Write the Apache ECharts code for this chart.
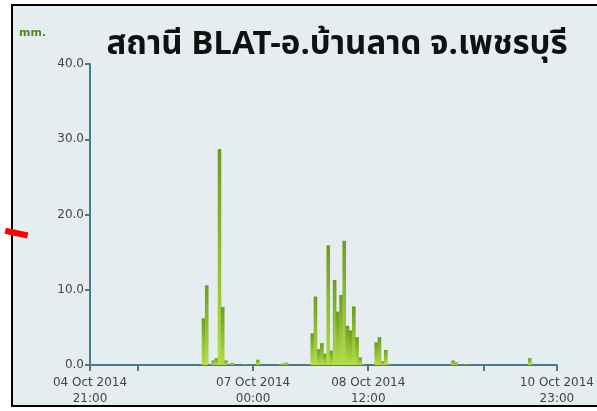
<!DOCTYPE html>
<html>
<head>
<meta charset="utf-8">
<script src="https://cdn.jsdelivr.net/npm/echarts@6/dist/echarts.min.js"></script>
<style>
  html, body { margin: 0; padding: 0; background: #ffffff; }
  .box {
    position: absolute; left: 11px; top: 4px; width: 600px; height: 399px;
    border: 2px solid #000000; background: #e6edf0;
  }
  #chart { position: absolute; left: 0; top: 0; width: 597px; height: 411px; }
</style>
</head>
<body>
<div class="box"></div>
<div id="chart"></div>
<script>
// hourly rainfall (mm), only hours with rain
var times = [
  '2014-10-06 08:00', '2014-10-06 09:00', '2014-10-06 11:00', '2014-10-06 12:00',
  '2014-10-06 13:00', '2014-10-06 14:00', '2014-10-06 15:00', '2014-10-06 17:00',
  '2014-10-06 21:00', '2014-10-07 01:00', '2014-10-07 08:00', '2014-10-07 09:00',
  '2014-10-07 10:00', '2014-10-07 18:00', '2014-10-07 19:00', '2014-10-07 20:00',
  '2014-10-07 21:00', '2014-10-07 22:00', '2014-10-07 23:00', '2014-10-08 00:00',
  '2014-10-08 01:00', '2014-10-08 02:00', '2014-10-08 03:00', '2014-10-08 04:00',
  '2014-10-08 05:00', '2014-10-08 06:00', '2014-10-08 07:00', '2014-10-08 08:00',
  '2014-10-08 09:00', '2014-10-08 10:00', '2014-10-08 14:00', '2014-10-08 15:00',
  '2014-10-08 16:00', '2014-10-08 17:00', '2014-10-08 18:00', '2014-10-09 14:00',
  '2014-10-09 15:00', '2014-10-09 18:00', '2014-10-10 14:00'
];
var rain = [
  6.2, 10.6, 0.6, 0.9,
  28.7, 7.7, 0.6, 0.3,
  0.1, 0.7, 0.1, 0.2,
  0.3, 4.2, 9.1, 2.1,
  2.9, 1.5, 15.9, 1.9,
  11.3, 7.1, 9.3, 16.5,
  5.2, 4.6, 7.8, 3.7,
  1.0, 0.1, 3.0, 3.7,
  0.5, 2.0, 0.1, 0.6,
  0.35, 0.1, 0.9
];
var axisStart = '2014-10-04 21:00';
var axisEnd = '2014-10-10 23:00';
var tickTimes = ['2014-10-04 21:00', '2014-10-05 12:00', '2014-10-07 00:00', '2014-10-08 12:00', '2014-10-10 00:00', '2014-10-10 23:00'];
var labelTimes = ['2014-10-04 21:00', '2014-10-07 00:00', '2014-10-08 12:00', '2014-10-10 23:00'];

function ts(s) {
  var p = s.split(/[- :]/);
  return Date.UTC(+p[0], +p[1] - 1, +p[2], +p[3], +p[4]);
}
var t0 = ts(axisStart);
// hours since axis start
function hr(s) { return (ts(s) - t0) / 3600000; }
var months = ['Jan', 'Feb', 'Mar', 'Apr', 'May', 'Jun', 'Jul', 'Aug', 'Sep', 'Oct', 'Nov', 'Dec'];
function pad(n) { return (n < 10 ? '0' : '') + n; }

// each bar sits in the middle of its hour
var data = [];
for (var i = 0; i < times.length; i++) {
  data.push([hr(times[i]) + 0.5, rain[i]]);
}

var myChart = echarts.init(document.getElementById('chart'));
myChart.setOption({
  backgroundColor: 'transparent',
  animation: false,
  grid: { left: 90, right: 40, top: 64, bottom: 46 },
  title: {
    text: 'สถานี BLAT-อ.บ้านลาด จ.เพชรบุรี',
    left: 332, top: 26, textAlign: 'center',
    textStyle: { fontSize: 33, fontWeight: 'bold', color: '#111111', fontFamily: 'Noto Sans Thai, Noto Sans, sans-serif' }
  },
  graphic: [
    {
      type: 'text', left: 19, top: 28,
      style: { text: 'mm.', fill: '#4d8a1c', font: 'bold 11px DejaVu Sans' }
    },
    {
      type: 'rect', x: 16, y: 233, rotation: -0.21,
      shape: { x: -11, y: -3, width: 23, height: 6 },
      style: { fill: '#ff0000' }
    }
  ],
  xAxis: {
    type: 'value',
    min: 0, max: hr(axisEnd),
    splitLine: { show: false },
    axisLine: { lineStyle: { color: '#4a7a8a', width: 2 } },
    axisTick: {
      show: true, length: 6, lineStyle: { color: '#4a7a8a', width: 2 },
      customValues: tickTimes.map(hr)
    },
    axisLabel: {
      customValues: labelTimes.map(hr),
      color: '#444444', fontSize: 12, fontFamily: 'DejaVu Sans', lineHeight: 16, margin: 10,
      formatter: function (v) {
        var d = new Date(t0 + v * 3600000);
        return pad(d.getUTCDate()) + ' ' + months[d.getUTCMonth()] + ' ' + d.getUTCFullYear() + '\n' + pad(d.getUTCHours()) + ':' + pad(d.getUTCMinutes());
      }
    }
  },
  yAxis: {
    type: 'value', min: 0, max: 40, interval: 10,
    splitLine: { show: false },
    axisLine: { show: true, lineStyle: { color: '#4a7a8a', width: 2 } },
    axisTick: { show: true, length: 5, lineStyle: { color: '#4a7a8a', width: 2 } },
    axisLabel: {
      color: '#444444', fontSize: 12, fontFamily: 'DejaVu Sans', margin: 6,
      formatter: function (v) { return v.toFixed(1); }
    }
  },
  series: [
    {
      type: 'bar',
      data: data,
      barWidth: 3.6,
      itemStyle: {
        color: new echarts.graphic.LinearGradient(0, 0, 0, 1, [
          { offset: 0, color: '#6c9c22' },
          { offset: 1, color: '#b2de48' }
        ])
      }
    }
  ]
});
</script>
</body>
</html>
